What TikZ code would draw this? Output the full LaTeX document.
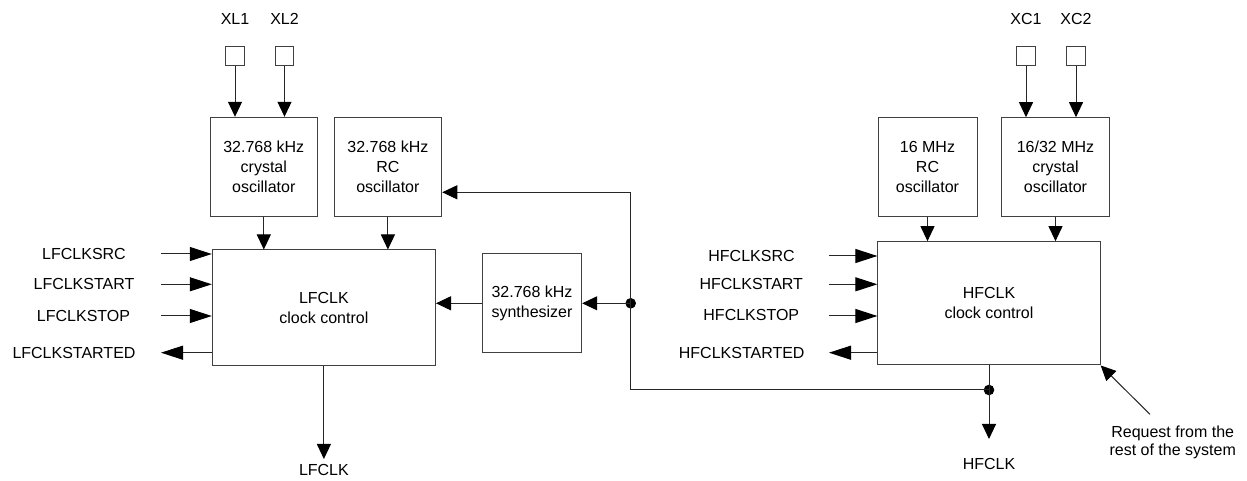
\documentclass[tikz,border=0pt]{standalone}
\usepackage{fontspec}
\setmainfont{Liberation Sans}
\usetikzlibrary{arrows.meta}
\begin{document}
\begin{tikzpicture}[x=1bp,y=-1bp,
  every node/.style={font=\fontsize{16bp}{20bp}\selectfont, inner sep=0pt},
  box/.style={draw=black!75, line width=1bp, align=center, inner sep=0pt},
  pad/.style={draw=black!75, line width=1bp, minimum size=18.7bp, inner sep=0pt},
  arr/.style={draw=black!85, line width=1bp, -{Triangle[length=15bp,width=14bp,color=black,fill=black]}},
  ctl/.style={draw=black!85, line width=1bp, -{Triangle[length=22bp,width=14bp,color=black,fill=black]}},
  dot/.style={circle, fill=black, minimum size=10.6bp, inner sep=0pt},
  lbl/.style={align=center}
]
\useasboundingbox[fill=white] (0,0) rectangle (1247,481);

% pads and pin labels
\node[pad] (xl1) at (235,56) {};
\node[pad] (xl2) at (284.5,56) {};
\node[lbl] (xl1t) at (235,19) {XL1};
\node[lbl] (xl2t) at (284.5,19) {XL2};
\node[pad] (xc1) at (1026,56) {};
\node[pad] (xc2) at (1076,56) {};
\node[lbl] (xc1t) at (1026,19) {XC1};
\node[lbl] (xc2t) at (1076,19) {XC2};

% blocks
\node[box, minimum width=107bp, minimum height=99.4bp] (xtal32) at (263.8,167) {32.768 kHz\\crystal\\oscillator};
\node[box, minimum width=107.7bp, minimum height=99.4bp] (rc32) at (387.9,167) {32.768 kHz\\RC\\oscillator};
\node[box, minimum width=223.2bp, minimum height=115bp] (lf) at (323.9,307.5) {LFCLK\\clock control};
\node[box, minimum width=99.4bp, minimum height=98.7bp] (syn) at (532,303.3) {32.768 kHz\\synthesizer};
\node[box, minimum width=99bp, minimum height=99bp] (rc16) at (927.5,167.2) {16 MHz\\RC\\oscillator};
\node[box, minimum width=107.6bp, minimum height=99bp] (xt16) at (1055.5,167.2) {16/32 MHz\\crystal\\oscillator};
\node[box, minimum width=222.3bp, minimum height=123.3bp] (hf) at (989,303.3) {HFCLK\\clock control};

% pad arrows
\draw[arr] (xl1) -- (xl1 |- xtal32.north);
\draw[arr] (xl2) -- (xl2 |- xtal32.north);
\draw[arr] (xc1) -- (xc1 |- xt16.north);
\draw[arr] (xc2) -- (xc2 |- xt16.north);

% oscillator to clock control
\draw[arr] (xtal32) -- (xtal32 |- lf.north);
\draw[arr] (rc32) -- (rc32 |- lf.north);
\draw[arr] (rc16) -- (rc16 |- hf.north);
\draw[arr] (xt16) -- (xt16 |- hf.north);

% LF control signals
\node[lbl] (lsrc) at (84,254) {LFCLKSRC};
\node[lbl] (lstart) at (84,284.3) {LFCLKSTART};
\node[lbl] (lstop) at (83.5,316) {LFCLKSTOP};
\node[lbl] (lsted) at (74,352.7) {LFCLKSTARTED};
\coordinate (la1) at (161,254);
\coordinate (la2) at (161,284.3);
\coordinate (la3) at (161,316);
\coordinate (la4) at (161,352.7);
\draw[ctl] (la1) -- (la1 -| lf.west);
\draw[ctl] (la2) -- (la2 -| lf.west);
\draw[ctl] (la3) -- (la3 -| lf.west);
\draw[ctl] (la4 -| lf.west) -- (la4);

% HF control signals
\node[lbl] (hsrc) at (751.5,255.7) {HFCLKSRC};
\node[lbl] (hstart) at (751.3,284.3) {HFCLKSTART};
\node[lbl] (hstop) at (751.3,315) {HFCLKSTOP};
\node[lbl] (hsted) at (741.7,352.7) {HFCLKSTARTED};
\coordinate (ha1) at (829,256);
\coordinate (ha2) at (829,284.3);
\coordinate (ha3) at (829,316);
\coordinate (ha4) at (829,352.7);
\draw[ctl] (ha1) -- (ha1 -| hf.west);
\draw[ctl] (ha2) -- (ha2 -| hf.west);
\draw[ctl] (ha3) -- (ha3 -| hf.west);
\draw[ctl] (ha4 -| hf.west) -- (ha4);

% junctions and feedback path
\node[dot] (j1) at (630.7,303.3) {};
\node[dot] (j2) at (989,390) {};
\coordinate (jt) at (630.7,192.3);
\coordinate (jb) at (630.7,390);
\draw[arr] (j2.center) -- (jb) -- (jt) -- (jt -| rc32.east);
\draw[arr] (j1.center) -- (syn.east);
\draw[arr] (syn.west) -- (syn.west -| lf.east);

% outputs
\coordinate (lfo) at (323.9,459);
\coordinate (hfo) at (989,439);
\draw[arr] (lf.south) -- (lfo);
\draw[arr] (hf.south) -- (hfo);
\node[lbl] (lfclk) at (323.9,470) {LFCLK};
\node[lbl] (hfclk) at (989,464) {HFCLK};

% request
\node[lbl, font=\fontsize{16bp}{18.3bp}\selectfont] (req) at (1172.7,442.5) {Request from the\\rest of the system};
\coordinate (rq) at (1150,414.3);
\draw[arr] (rq) -- (hf.south east);
\end{tikzpicture}
\end{document}
